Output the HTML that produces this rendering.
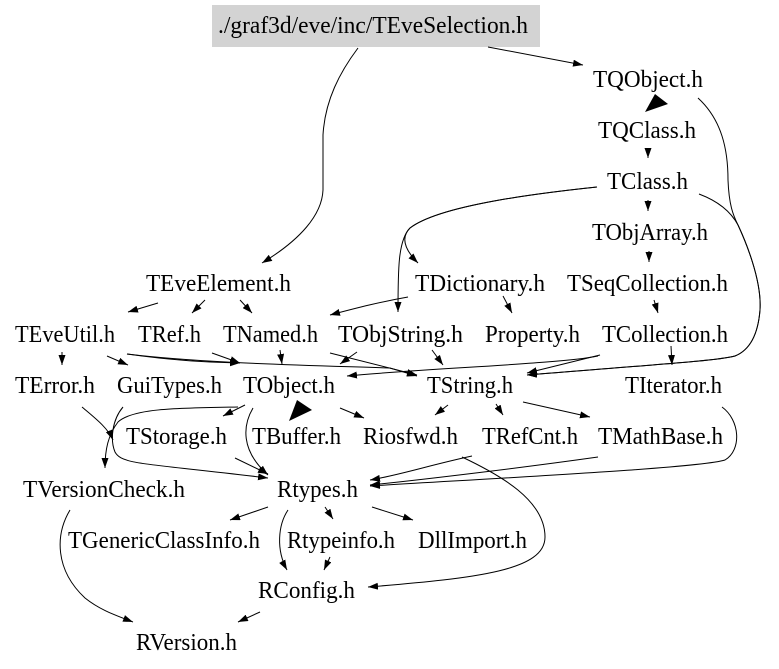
<!DOCTYPE html>
<html><head><meta charset="utf-8"><style>
html,body{margin:0;padding:0;background:#fff;}
svg{display:block;}
text{font-family:"Liberation Serif","Times New Roman",serif;font-size:24px;fill:#000;}
</style></head><body>
<svg width="779" height="669" viewBox="0 0 779 669" xmlns="http://www.w3.org/2000/svg">
<defs>
<marker id="a" viewBox="0 0 10 7" refX="10" refY="3.5" markerWidth="10" markerHeight="7" markerUnits="userSpaceOnUse" orient="auto">
<path d="M0,0 L10,3.5 L0,7 z" fill="#000"/>
</marker>
</defs>
<rect x="212" y="5" width="328" height="42" fill="#d3d3d3"/>
<g fill="none" stroke="#000" stroke-width="1" marker-end="url(#a)">
<path d="M488,47 L583,65"/>
<path d="M358,48 C340,72 325,100 323,135 L323,190 C322,215 300,240 262,263"/>
<path d="M698,98 C722,120 728,150 728,180 C729,205 733,215 738,225 C745,240 762,280 760,310 C758,335 750,350 735,356 C720,360 690,362 527,375"/>
<path d="M699,194 C715,200 730,210 738,225 C745,240 762,280 760,310 C758,335 750,350 735,356 C720,360 690,362 527,375"/>
<path d="M648,148 L648,158"/>
<path d="M648,200 L648,211"/>
<path d="M649,251 L649,262"/>
<path d="M654,300 L658,313"/>
<path d="M597,187 C540,193 440,205 410,228 C400,238 405,250 418,263"/>
<path d="M597,187 C540,193 440,205 410,228 C398,240 398,270 398,312"/>
<path d="M503,296 L512,313"/>
<path d="M408,297 C380,302 360,307 330,315"/>
<path d="M158,303 L128,312"/>
<path d="M205,300 L192,313"/>
<path d="M240,300 L252,313"/>
<path d="M62,352 L62,365"/>
<path d="M107,356 L128,365"/>
<path d="M127,354 C170,360 200,362 240,363"/>
<path d="M127,354 C200,363 300,365 390,368 L417,376"/>
<path d="M212,353 L240,363"/>
<path d="M280,350 L282,364"/>
<path d="M330,353 L417,375"/>
<path d="M357,352 L340,364"/>
<path d="M432,350 L443,365"/>
<path d="M598,356 C560,364 430,368 347,376"/>
<path d="M600,355 L527,373"/>
<path d="M671,346 L672,365"/>
<path d="M245,405 L223,416"/>
<path d="M238,407 C180,408 133,408 118,422 C108,435 105,450 105,468"/>
<path d="M123,407 C112,420 110,440 115,452 C122,465 145,463 268,478"/>
<path d="M82,407 C95,418 108,428 113,440"/>
<path d="M253,408 C243,425 240,450 268,475"/>
<path d="M235,458 L268,474"/>
<path d="M340,408 L364,418"/>
<path d="M448,405 L435,415"/>
<path d="M496,404 L503,415"/>
<path d="M523,402 L590,417"/>
<path d="M462,457 C500,475 545,500 545,537 C545,570 480,578 368,587"/>
<path d="M472,456 C430,465 400,475 370,480"/>
<path d="M598,457 C520,468 420,480 370,485"/>
<path d="M722,407 C740,420 742,450 725,460 C700,468 500,478 370,486"/>
<path d="M268,507 L230,520"/>
<path d="M325,507 L333,519"/>
<path d="M372,507 L413,520"/>
<path d="M288,510 C278,525 276,550 287,570"/>
<path d="M330,557 L324,570"/>
<path d="M260,612 L238,622"/>
<path d="M70,510 C55,535 55,570 85,598 C100,610 115,615 133,622"/>
</g>
<polygon points="645,112 655,94 668,104" fill="#000"/>
<polygon points="289,421 297,400 312,410" fill="#000"/>
<g>
<text x="218" y="33" textLength="310" lengthAdjust="spacingAndGlyphs">./graf3d/eve/inc/TEveSelection.h</text>
<text x="593" y="87" textLength="110" lengthAdjust="spacingAndGlyphs">TQObject.h</text>
<text x="598" y="138" textLength="98" lengthAdjust="spacingAndGlyphs">TQClass.h</text>
<text x="607" y="189" textLength="81" lengthAdjust="spacingAndGlyphs">TClass.h</text>
<text x="592" y="240" textLength="116" lengthAdjust="spacingAndGlyphs">TObjArray.h</text>
<text x="146" y="291" textLength="145" lengthAdjust="spacingAndGlyphs">TEveElement.h</text>
<text x="415" y="291" textLength="130" lengthAdjust="spacingAndGlyphs">TDictionary.h</text>
<text x="567" y="291" textLength="161" lengthAdjust="spacingAndGlyphs">TSeqCollection.h</text>
<text x="15" y="342" textLength="100" lengthAdjust="spacingAndGlyphs">TEveUtil.h</text>
<text x="138" y="342" textLength="63" lengthAdjust="spacingAndGlyphs">TRef.h</text>
<text x="223" y="342" textLength="95" lengthAdjust="spacingAndGlyphs">TNamed.h</text>
<text x="338" y="342" textLength="125" lengthAdjust="spacingAndGlyphs">TObjString.h</text>
<text x="485" y="342" textLength="95" lengthAdjust="spacingAndGlyphs">Property.h</text>
<text x="602" y="342" textLength="126" lengthAdjust="spacingAndGlyphs">TCollection.h</text>
<text x="15" y="393" textLength="80" lengthAdjust="spacingAndGlyphs">TError.h</text>
<text x="117" y="393" textLength="105" lengthAdjust="spacingAndGlyphs">GuiTypes.h</text>
<text x="243" y="393" textLength="92" lengthAdjust="spacingAndGlyphs">TObject.h</text>
<text x="427" y="393" textLength="86" lengthAdjust="spacingAndGlyphs">TString.h</text>
<text x="625" y="393" textLength="97" lengthAdjust="spacingAndGlyphs">TIterator.h</text>
<text x="126" y="444" textLength="101" lengthAdjust="spacingAndGlyphs">TStorage.h</text>
<text x="252" y="444" textLength="89" lengthAdjust="spacingAndGlyphs">TBuffer.h</text>
<text x="363" y="444" textLength="95" lengthAdjust="spacingAndGlyphs">Riosfwd.h</text>
<text x="482" y="444" textLength="96" lengthAdjust="spacingAndGlyphs">TRefCnt.h</text>
<text x="598" y="444" textLength="125" lengthAdjust="spacingAndGlyphs">TMathBase.h</text>
<text x="23" y="497" textLength="162" lengthAdjust="spacingAndGlyphs">TVersionCheck.h</text>
<text x="277" y="497" textLength="81" lengthAdjust="spacingAndGlyphs">Rtypes.h</text>
<text x="68" y="548" textLength="192" lengthAdjust="spacingAndGlyphs">TGenericClassInfo.h</text>
<text x="287" y="548" textLength="108" lengthAdjust="spacingAndGlyphs">Rtypeinfo.h</text>
<text x="418" y="548" textLength="109" lengthAdjust="spacingAndGlyphs">DllImport.h</text>
<text x="258" y="598" textLength="97" lengthAdjust="spacingAndGlyphs">RConfig.h</text>
<text x="136" y="650" textLength="101" lengthAdjust="spacingAndGlyphs">RVersion.h</text>
</g>
</svg>
</body></html>
